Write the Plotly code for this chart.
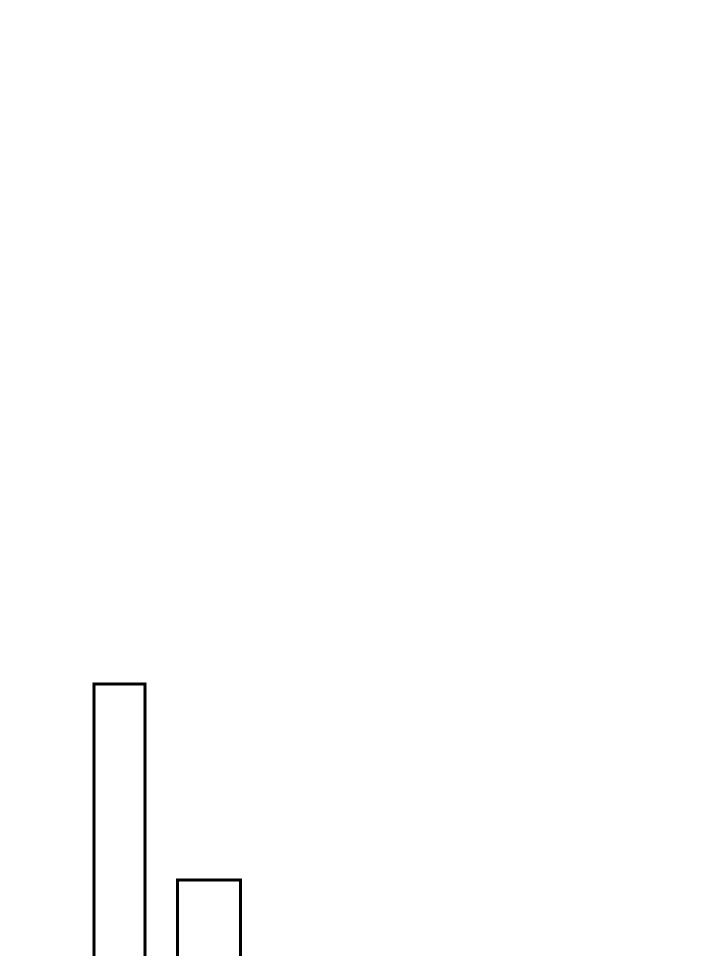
import plotly.graph_objects as go

# bar data
categories = ["A", "B"]
values = [30, 12]
centers = [111.5, 201]
bar_widths = [51, 63]

fig = go.Figure()
fig.add_trace(go.Bar(
    x=centers,
    y=values,
    width=bar_widths,
    text=categories,
    textposition="none",
    marker=dict(color="white", line=dict(color="black", width=3)),
    hoverinfo="skip",
))

# axes hidden, y range starts above 0 so bars run off the bottom
fig.update_xaxes(range=[0, 720], visible=False)
fig.update_yaxes(range=[4.29, 92.09], visible=False)
fig.update_layout(
    width=720, height=956,
    margin=dict(l=0, r=0, t=0, b=0),
    paper_bgcolor="white", plot_bgcolor="white",
    showlegend=False,
)
fig.write_html("out.html")
